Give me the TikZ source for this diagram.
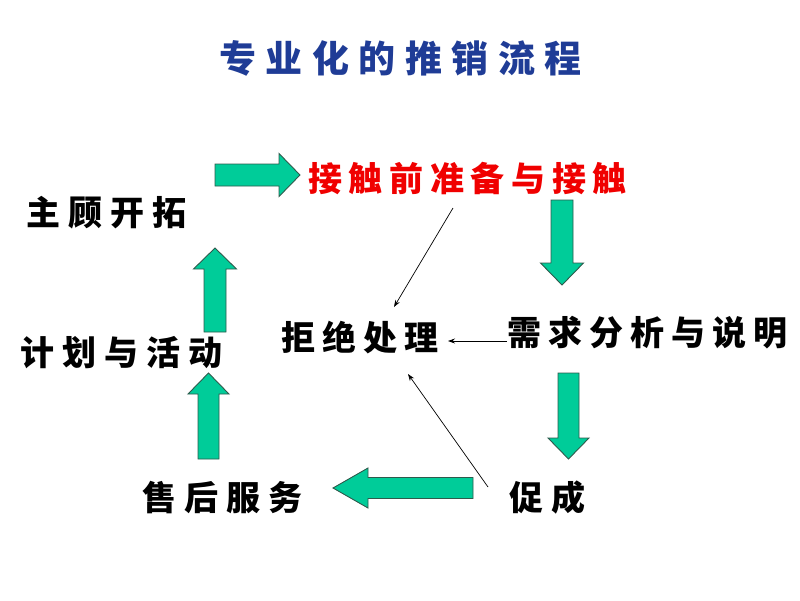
\documentclass[tikz,border=0pt]{standalone}
\usepackage{fontspec}
\usetikzlibrary{calc,arrows.meta}
\newfontfamily\cjk{Noto Sans CJK SC}
\definecolor{arrgreen}{HTML}{00CC99}
\definecolor{arredge}{HTML}{2E5A4C}
\definecolor{titleblue}{HTML}{1F3C96}
\definecolor{stepred}{HTML}{F00000}
\def\spr#1#2{\def\cw{#1}\sprI#2\relax}
\def\sprI#1{\ifx#1\relax\else\makebox[\cw pt]{#1}\expandafter\sprI\fi}
\newcommand\blockarr[5]{%
  \coordinate (bS) at #1; \coordinate (bE) at #2;
  \coordinate (bB) at ($(bE)!#5pt!(bS)$);
  \filldraw[bigarrow] ($(bS)!#3pt!90:(bE)$) -- ($(bB)!#3pt!-90:(bS)$)
    -- ($(bB)!#4pt!-90:(bS)$) -- (bE) -- ($(bB)!#4pt!90:(bS)$)
    -- ($(bB)!#3pt!90:(bS)$) -- ($(bS)!#3pt!-90:(bE)$) -- cycle;}
\tikzset{
  bigarrow/.style={fill=arrgreen, draw=arredge, line width=0.9pt, line join=miter},
  thinarr/.style={draw=black, line width=0.7pt, -{Stealth[length=7pt,width=5pt]}},
  lbl/.style={inner sep=0pt, anchor=base, font=\cjk\bfseries\fontsize{34}{34}\selectfont, text=black},
  redlbl/.style={lbl, text=stepred, font=\cjk\bfseries\fontsize{34}{34}\selectfont},
  ttl/.style={lbl, text=titleblue, font=\cjk\bfseries\fontsize{37}{37}\selectfont}
}
\begin{document}
\begin{tikzpicture}[x=1pt,y=-1pt]
\useasboundingbox (0,0) rectangle (800,600);
% title
\node[ttl] (title) at (400.5,72) {\spr{46.5}{专业化的推销流程}};
% labels (baseline = ink centre + 0.38 em)
\node[redlbl] (jc) at (467.5,191) {\spr{40.7}{接触前准备与接触}};
\node[lbl] (zg) at (106.5,225) {\spr{42}{主顾开拓}};
\node[lbl] (jj) at (360,350) {\spr{41}{拒绝处理}};
\node[lbl] (xq) at (647.5,345) {\spr{41}{需求分析与说明}};
\node[lbl] (jh) at (121.5,365) {\spr{42}{计划与活动}};
\node[lbl] (sh) at (222.5,510) {\spr{42}{售后服务}};
\node[lbl] (cc) at (547.5,510) {\spr{43}{促成}};
% block arrows
\blockarr{(215,175)}{(300,175)}{11}{21.5}{21}
\blockarr{(562,200)}{(562,285)}{11}{21.5}{22}
\blockarr{(568.5,373)}{(568.5,459)}{10.5}{20.5}{21}
\blockarr{(473,488)}{(333,488)}{10.5}{20}{35}
\blockarr{(208.5,459)}{(208.5,373)}{10.5}{20.5}{21}
\blockarr{(215,332)}{(215,248)}{11}{21.5}{21}
% thin arrows
\coordinate (t1s) at (453,208); \coordinate (t1e) at (394,307);
\coordinate (t2s) at (507,341); \coordinate (t2e) at (448,341);
\coordinate (t3s) at (488,487); \coordinate (t3e) at (408,374);
\draw[thinarr] (t1s) -- (t1e);
\draw[thinarr] (t2s) -- (t2e);
\draw[thinarr] (t3s) -- (t3e);
\end{tikzpicture}
\end{document}
